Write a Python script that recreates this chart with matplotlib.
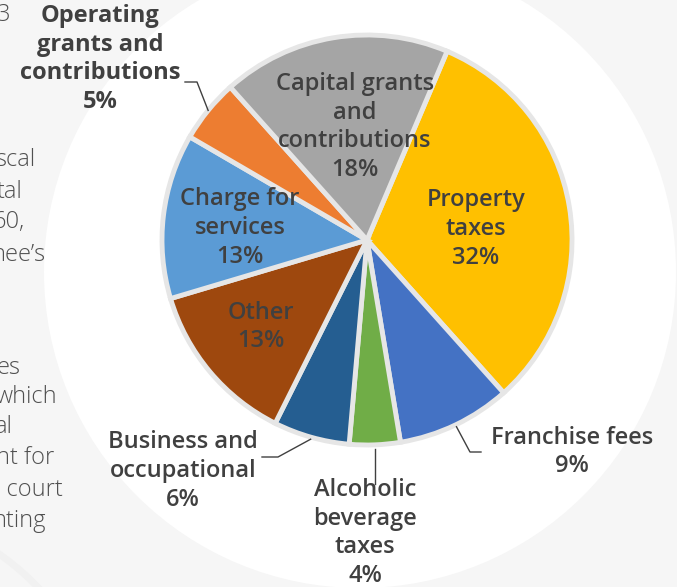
import matplotlib.pyplot as plt
import numpy as np
from matplotlib.patches import Circle

# revenue sources, clockwise from the first slice
categories = ["Property\ntaxes", "Franchise fees", "Alcoholic\nbeverage\ntaxes",
              "Business and\noccupational", "Other", "Charge for\nservices",
              "Operating\ngrants and\ncontributions", "Capital grants\nand\ncontributions"]
shares = [32, 9, 4, 6, 13, 13, 5, 18]
colors = ["#FFC000", "#4472C4", "#70AD47", "#255E91", "#9E480E", "#5B9BD5",
          "#ED7D31", "#A5A5A5"]

# fragments of the page text that runs beside the chart
side_text = ["3", "scal", "tal", "60,", "nee\u2019s", "es", "which", "al",
             "nt for", "l court", "nting"]

W, H = 677, 587
txt = "#404040"
plt.rcParams['font.family'] = ['Open Sans', 'DejaVu Sans']

fig = plt.figure(figsize=(W / 100, H / 100), dpi=100, facecolor="#f6f6f6")
ax = fig.add_axes([0, 0, 1, 1])
ax.axis("off")

ax.add_patch(Circle((360, H - 272), 316, facecolor="white", edgecolor="none", zorder=0))
ax.add_patch(Circle((-150, -180), 260, facecolor="none", edgecolor="#f1f1f1", lw=5, zorder=0))

cx, cy, R = 367, H - 240, 205
explode = [0.025, 0, 0, 0, 0, 0, 0, 0]
wedges, _ = ax.pie(shares, colors=colors, startangle=67, counterclock=False,
                   center=(cx, cy), radius=R, explode=explode,
                   wedgeprops=dict(edgecolor="#e6e6e6", linewidth=3.5))
ax.set_xlim(0, W)
ax.set_ylim(0, H)
ax.set_aspect("equal")


def lab(i):
    return f"{categories[i]}\n{shares[i]}%"


def rim(i, frac=1.0):
    w = wedges[i]
    a = np.deg2rad((w.theta1 + w.theta2) / 2)
    x0, y0 = w.center
    return x0 + w.r * frac * np.cos(a), y0 + w.r * frac * np.sin(a)


kw = dict(ha="center", va="center", color=txt, fontsize=17, linespacing=1.27,
          fontweight="semibold")
# labels inside the slices
ax.text(476, H - 229, lab(0), **kw)
ax.text(261, H - 327, lab(4), **kw)
ax.text(240, H - 228, lab(5), **kw)
ax.text(355, H - 127, lab(7), **kw)

# labels outside, with leader lines
ax.text(572, H - 452, lab(1), **kw)
ax.text(183, H - 471, lab(3), **kw)
ax.text(365, H - 533, lab(2), **kw)
ax.text(100, H - 59, lab(6), **{**kw, "fontweight": "bold"})

lc = dict(color="#404040", lw=1)
x, y = rim(1, 1.01)
ax.plot([x, 470, 481], [y, H - 452, H - 452], **lc)
x, y = rim(3, 1.01)
ax.plot([x, 278, 262], [y, H - 457, H - 457], **lc)
x, y = rim(2, 1.02)
ax.plot([x, x], [y, H - 484], **lc)
x, y = rim(6, 1.0)
ax.plot([x, 197, 185], [y, H - 82, H - 82], **lc)

side_y = [15, 160, 192, 222, 255, 368, 397, 427, 458, 490, 521]
side_x = [-3, -5, -3, -8, -8, -3, -4, -5, -4, -5, -7]
for s, sx, sy in zip(side_text, side_x, side_y):
    ax.text(sx, H - sy, s, ha="left", va="center", color="#505050", fontsize=17,
            fontweight="light")

fig.savefig("out.png", dpi=100, facecolor=fig.get_facecolor())
